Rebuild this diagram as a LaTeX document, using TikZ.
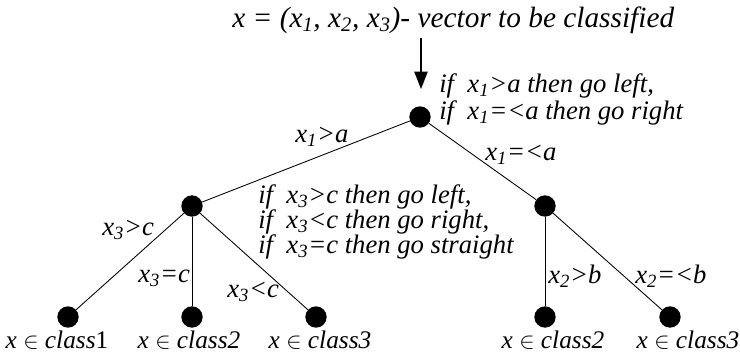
\documentclass[tikz,border=0pt]{standalone}
\usepackage{fontspec}
\setmainfont{LiberationSerif}[Extension=.ttf, UprightFont=*-Regular, ItalicFont=*-Italic, BoldFont=*-Bold, BoldItalicFont=*-BoldItalic]
\usetikzlibrary{arrows.meta}
\tikzset{
  dot/.style={circle,fill=black,inner sep=0pt,minimum size=16pt},
  edge/.style={draw=black,line width=0.65pt},
  lbl/.style={anchor=base west,inner sep=0pt,font=\fontsize{20}{20}\selectfont\itshape},
  toplbl/.style={anchor=base west,inner sep=0pt,font=\fontsize{22}{22}\selectfont\itshape},
  leaflbl/.style={anchor=base,inner sep=0pt,font=\fontsize{19}{19}\selectfont\itshape},
  feed/.style={draw=black,line width=1pt,-{Triangle[length=13pt,width=10pt]}}
}
\newcommand\xs[1]{x\textsubscript{#1}}
\begin{document}
\begin{tikzpicture}[x=0.75pt,y=-0.75pt]
\useasboundingbox (0,0) rectangle (740,354);
% nodes
\node[dot] (r) at (420,117) {};
\node[dot] (l) at (192,206) {};
\node[dot] (rc) at (545,206) {};
\node[dot] (l1) at (68,317) {};
\node[dot] (l2) at (192,317) {};
\node[dot] (l3) at (316,317) {};
\node[dot] (r1) at (545,317) {};
\node[dot] (r2) at (670,317) {};
% edges
\draw[edge] (r) -- (l);
\draw[edge] (r) -- (rc);
\draw[edge] (l) -- (l1);
\draw[edge] (l) -- (l2);
\draw[edge] (l) -- (l3);
\draw[edge] (rc) -- (r1);
\draw[edge] (rc) -- (r2);
% input arrow
\coordinate (aS) at (421,38);
\coordinate (aE) at (421,89);
\draw[feed] (aS) -- (aE);
% texts
\node[toplbl] (top) at (232,27) {x = (\xs{1}, \xs{2}, \xs{3})- vector to be classified};
\node[lbl] (c1a) at (439,92) {if \ \xs{1}>a then go left,};
\node[lbl] (c1b) at (439,119) {if \ \xs{1}=<a then go right};
\node[lbl] (e1) at (295,142) {\xs{1}>a};
\node[lbl] (e2) at (485,160) {\xs{1}=<a};
\node[lbl] (c3a) at (258,203) {if \ \xs{3}>c then go left,};
\node[lbl] (c3b) at (258,228) {if \ \xs{3}<c then go right,};
\node[lbl] (c3c) at (258,253) {if \ \xs{3}=c then go straight};
\node[lbl] (e3) at (102,235) {\xs{3}>c};
\node[lbl] (e4) at (138,282) {\xs{3}=c};
\node[lbl] (e5) at (227,297) {\xs{3}<c};
\node[lbl] (e6) at (548,283) {\xs{2}>b};
\node[lbl] (e7) at (635,283) {\xs{2}=<b};
\node[leaflbl] (t1) at (57,348) {x $\in$ class{\upshape 1}};
\node[leaflbl] (t2) at (189,348) {x $\in$ class2};
\node[leaflbl] (t3) at (320,348) {x $\in$ class3};
\node[leaflbl] (t4) at (553,348) {x $\in$ class2};
\node[leaflbl] (t5) at (688,348) {x $\in$ class3};
\end{tikzpicture}
\end{document}
